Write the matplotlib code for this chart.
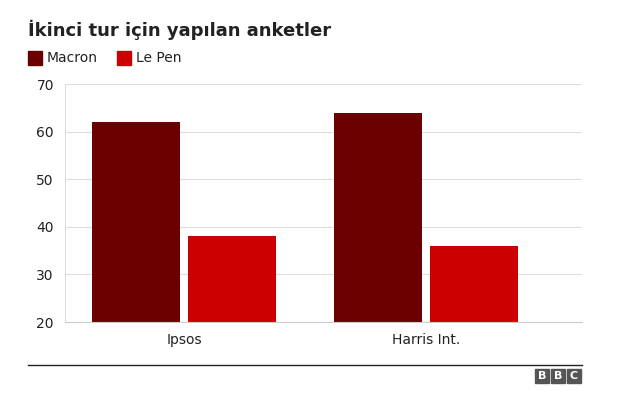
import numpy as np
import matplotlib.pyplot as plt
from matplotlib.patches import Rectangle

categories = ["Ipsos", "Harris Int."]
macron = [62, 64]
lepen = [38, 36]
yticks = [20, 30, 40, 50, 60, 70]

W, H = 635, 407
fig = plt.figure(figsize=(W / 100, H / 100), dpi=100)
ax = fig.add_axes([65 / W, 1 - 322 / H, 517 / W, (322 - 84) / H])

x = np.arange(len(categories))
w = 0.364
ax.bar(x - 0.198, macron, w, color="#6b0000", label="Macron")
ax.bar(x + 0.198, lepen, w, color="#cc0000", label="Le Pen")

ax.set_ylim(20, 70)
ax.set_xlim(-0.492, 1.645)
ax.set_yticks(yticks)
ax.set_xticks(x)
ax.set_xticklabels(categories)
ax.grid(axis="y", color="#dddddd", lw=0.8)
ax.set_axisbelow(True)
for s in ["top", "right"]:
    ax.spines[s].set_visible(False)
ax.spines["left"].set_color("#dddddd")
ax.spines["bottom"].set_color("#cccccc")
ax.tick_params(length=0, labelsize=10, colors="#222222", pad=8)

fig.text(28 / W, 1 - 30 / H, "İkinci tur için yapılan anketler", fontsize=13,
         fontweight="bold", va="center", color="#222222")
# legend
for lx, lbl, col in [(28, "Macron", "#6b0000"), (117, "Le Pen", "#cc0000")]:
    fig.patches.append(Rectangle((lx / W, 1 - 65 / H), 14 / W, 14 / H,
                                 transform=fig.transFigure, color=col))
    fig.text((lx + 19) / W, 1 - 58 / H, lbl, fontsize=10, va="center", color="#222222")

fig.add_artist(plt.Line2D([28 / W, 582 / W], [1 - 365 / H] * 2,
                          transform=fig.transFigure, color="#222222", lw=1))
for i, ch in enumerate("BBC"):
    bx = 535 + i * 16
    fig.patches.append(Rectangle((bx / W, 1 - 383 / H), 14 / W, 14 / H,
                                 transform=fig.transFigure, color="#555555"))
    fig.text((bx + 7) / W, 1 - 376 / H, ch, fontsize=8, fontweight="bold",
             color="white", ha="center", va="center")

fig.savefig("out.png", dpi=100)
